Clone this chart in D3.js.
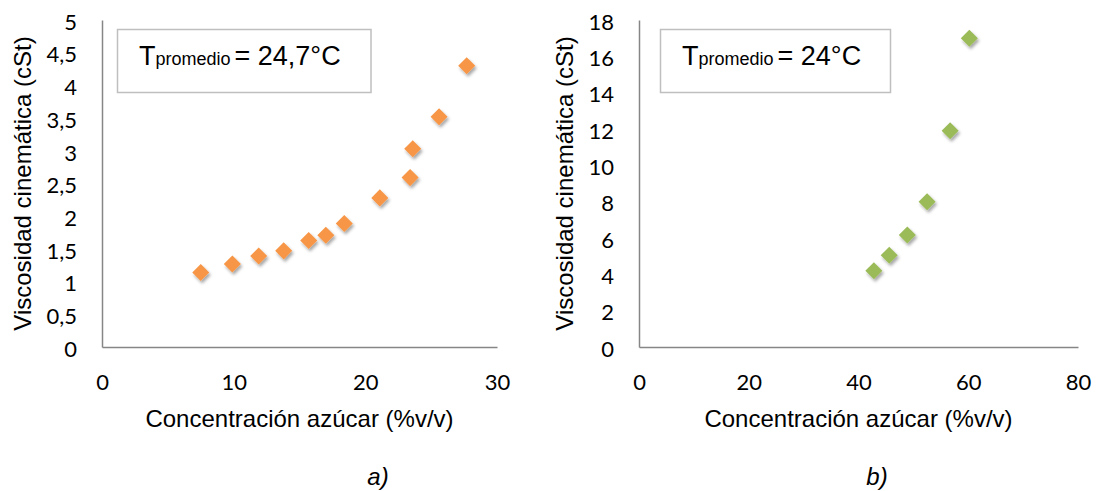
<!DOCTYPE html>
<html>
<head>
<meta charset="utf-8">
<script src="https://cdn.jsdelivr.net/npm/d3@7"></script>
<style>
  body { margin: 0; background: #fff; }
  svg { display: block; }
</style>
</head>
<body>
<svg id="chart" width="1099" height="491"></svg>
<script>
// chart a) - T promedio 24,7 °C
const concA = [7.5, 9.9, 11.9, 13.8, 15.7, 17.0, 18.4, 21.1, 23.4, 23.6, 25.6, 27.7];
const viscA = [1.14, 1.27, 1.39, 1.47, 1.63, 1.71, 1.89, 2.28, 2.59, 3.03, 3.52, 4.30];
const xTicksA = [0, 10, 20, 30];
const yTicksA = [0, 0.5, 1, 1.5, 2, 2.5, 3, 3.5, 4, 4.5, 5];

// chart b) - T promedio 24 °C
const concB = [42.8, 45.6, 48.9, 52.5, 56.7, 60.2];
const viscB = [4.2, 5.05, 6.16, 8.0, 11.9, 17.0];
const xTicksB = [0, 20, 40, 60, 80];
const yTicksB = [0, 2, 4, 6, 8, 10, 12, 14, 16, 18];

const xTitle = "Concentración azúcar (%v/v)";
const yTitle = "Viscosidad cinemática (cSt)";

const svg = d3.select("#chart");

const defs = svg.append("defs");
defs.append("filter")
    .attr("id", "shadow")
    .attr("x", "-50%").attr("y", "-50%")
    .attr("width", "200%").attr("height", "200%")
  .append("feDropShadow")
    .attr("dx", 1.5).attr("dy", 2.5)
    .attr("stdDeviation", 1.6)
    .attr("flood-color", "#000")
    .attr("flood-opacity", 0.35);

const tickFont = "Lato, 'Open Sans', sans-serif";
const textFont = "'Liberation Sans', Arial, sans-serif";
const fmt = v => String(v).replace(".", ",");

function panel(opts) {
  const x = d3.scaleLinear().domain(opts.xDomain).range([opts.left, opts.right]);
  const y = d3.scaleLinear().domain(opts.yDomain).range([opts.bottom, opts.top]);

  const gx = svg.append("g")
      .attr("transform", `translate(0,${opts.bottom})`)
      .call(d3.axisBottom(x).tickValues(opts.xTicks).tickSize(0).tickPadding(27).tickFormat(fmt));
  const gy = svg.append("g")
      .attr("transform", `translate(${opts.left},0)`)
      .call(d3.axisLeft(y).tickValues(opts.yTicks).tickSize(0).tickPadding(25).tickFormat(fmt));

  [gx, gy].forEach(g => {
    g.select(".domain").attr("stroke", "#868686").attr("stroke-width", 1.5);
    g.selectAll("text")
      .attr("font-family", tickFont)
      .attr("font-size", 22)
      .attr("fill", "#000");
  });
  gy.selectAll("text").attr("dy", "0.42em");

  // axis titles
  svg.append("text")
      .attr("x", (opts.left + opts.right) / 2)
      .attr("y", 427)
      .attr("text-anchor", "middle")
      .attr("font-family", textFont)
      .attr("font-size", 24)
      .text(xTitle);

  svg.append("text")
      .attr("transform", `translate(${opts.yTitleX},${(opts.top + opts.bottom) / 2}) rotate(-90)`)
      .attr("text-anchor", "middle")
      .attr("dy", "0.35em")
      .attr("font-family", textFont)
      .attr("font-size", 24)
      .text(yTitle);

  // temperature box
  svg.append("rect")
      .attr("x", opts.box[0]).attr("y", 29.5)
      .attr("width", opts.box[1]).attr("height", 63)
      .attr("fill", "#fff")
      .attr("stroke", "#bfbfbf")
      .attr("stroke-width", 1.5);

  const t = svg.append("text")
      .attr("x", opts.box[0] + 21.5)
      .attr("y", 65)
      .attr("font-family", textFont)
      .attr("fill", "#000")
      .attr("xml:space", "preserve");
  t.append("tspan").attr("font-size", 27).text("T");
  t.append("tspan").attr("font-size", 18).text("promedio");
  t.append("tspan").attr("font-size", 27).attr("dx", 4).text(opts.label);

  // markers
  const pts = opts.xs.map((v, i) => ({ x: v, y: opts.ys[i] }));
  svg.append("g")
    .selectAll("path")
    .data(pts)
    .join("path")
      .attr("d", d3.symbol().type(d3.symbolDiamond2).size(185))
      .attr("transform", d => `translate(${x(d.x)},${y(d.y)})`)
      .attr("fill", opts.color)
      .attr("filter", "url(#shadow)");

  // figure letter
  svg.append("text")
      .attr("x", opts.letterX)
      .attr("y", 485)
      .attr("text-anchor", "middle")
      .attr("font-family", textFont)
      .attr("font-style", "italic")
      .attr("font-size", 24)
      .text(opts.letter);
}

panel({
  xs: concA, ys: viscA, xTicks: xTicksA, yTicks: yTicksA,
  xDomain: [0, 30], yDomain: [0, 5],
  left: 102, right: 497, top: 20, bottom: 347,
  yTitleX: 23, box: [117.5, 253.5], label: "= 24,7°C",
  color: "#f79646", letter: "a)", letterX: 378
});

panel({
  xs: concB, ys: viscB, xTicks: xTicksB, yTicks: yTicksB,
  xDomain: [0, 80], yDomain: [0, 18],
  left: 639, right: 1078, top: 20, bottom: 347,
  yTitleX: 565, box: [660.5, 230], label: "= 24°C",
  color: "#9bbb59", letter: "b)", letterX: 877
});
</script>
</body>
</html>
